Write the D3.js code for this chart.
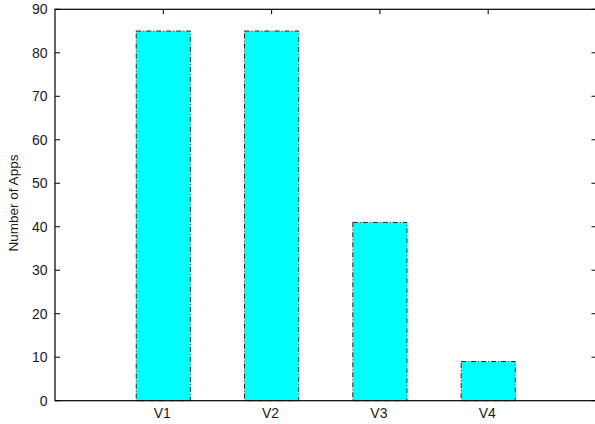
<!DOCTYPE html>
<html>
<head>
<meta charset="utf-8">
<script src="https://cdn.jsdelivr.net/npm/d3@7"></script>
<style>
  body { margin: 0; background: #fff; }
  svg { display: block; font-family: "Liberation Sans", Arial, sans-serif; }
</style>
</head>
<body>
<svg id="chart" width="595" height="424"></svg>
<script>
// data
const categories = ["V1", "V2", "V3", "V4"]
const appCounts = [85, 85, 41, 9]
const yTicks = [0, 10, 20, 30, 40, 50, 60, 70, 80, 90]

const svg = d3.select("#chart")
const margin = {top: 9.3, right: -1.5, bottom: 23.3, left: 55}
const width = +svg.attr("width") - margin.left - margin.right
const height = +svg.attr("height") - margin.top - margin.bottom

const g = svg.append("g").attr("transform", "translate(" + margin.left + "," + margin.top + ")")

// gnuplot style: bars at 1..4, xrange [0:5]
const x = d3.scaleLinear().domain([0, 5]).range([0, width])
const y = d3.scaleLinear().domain([0, 90]).range([height, 0])
const barW = x(0.5) - x(0)

const tickLen = 5

// y ticks, left and mirrored right
g.append("g").selectAll("line.yl")
    .data(yTicks).enter().append("line")
    .attr("x1", 0).attr("x2", tickLen)
    .attr("y1", d => y(d)).attr("y2", d => y(d))
    .attr("stroke", "#000").attr("stroke-width", 1)
g.append("g").selectAll("line.yr")
    .data(yTicks).enter().append("line")
    .attr("x1", width).attr("x2", width - tickLen)
    .attr("y1", d => y(d)).attr("y2", d => y(d))
    .attr("stroke", "#000").attr("stroke-width", 1)

// x ticks, bottom and top
g.append("g").selectAll("line.xb")
    .data(categories).enter().append("line")
    .attr("x1", (d, i) => x(i + 1)).attr("x2", (d, i) => x(i + 1))
    .attr("y1", height).attr("y2", height - tickLen)
    .attr("stroke", "#000").attr("stroke-width", 1)
g.append("g").selectAll("line.xt")
    .data(categories).enter().append("line")
    .attr("x1", (d, i) => x(i + 1)).attr("x2", (d, i) => x(i + 1))
    .attr("y1", 0).attr("y2", tickLen)
    .attr("stroke", "#000").attr("stroke-width", 1)

// bars
g.selectAll(".bar")
    .data(appCounts).enter().append("rect")
    .attr("class", "bar")
    .attr("x", (d, i) => x(i + 1) - barW / 2)
    .attr("y", d => y(d))
    .attr("width", barW)
    .attr("height", d => height - y(d))
    .attr("fill", "#00ffff")
    .attr("stroke", "#1a2a2a")
    .attr("stroke-width", 1)
    .attr("stroke-dasharray", "5,2,1,2")

// frame
g.append("rect")
    .attr("x", 0).attr("y", 0)
    .attr("width", width).attr("height", height)
    .attr("fill", "none").attr("stroke", "#000").attr("stroke-width", 1.2)

// tick labels
g.append("g").selectAll("text")
    .data(yTicks).enter().append("text")
    .attr("x", -7.5)
    .attr("y", d => y(d))
    .attr("dy", "0.36em")
    .attr("text-anchor", "end")
    .attr("font-size", "14px")
    .attr("fill", "#1a1a1a")
    .text(d => d)

g.append("g").selectAll("text")
    .data(categories).enter().append("text")
    .attr("x", (d, i) => x(i + 1) - 1)
    .attr("y", height + 17)
    .attr("text-anchor", "middle")
    .attr("font-size", "14px")
    .attr("fill", "#1a1a1a")
    .text(d => d)

// axis title
svg.append("text")
    .attr("transform", "translate(18,203) rotate(-90)")
    .attr("text-anchor", "middle")
    .attr("font-size", "13.5px")
    .attr("fill", "#1a1a1a")
    .text("Number of Apps")
</script>
</body>
</html>
